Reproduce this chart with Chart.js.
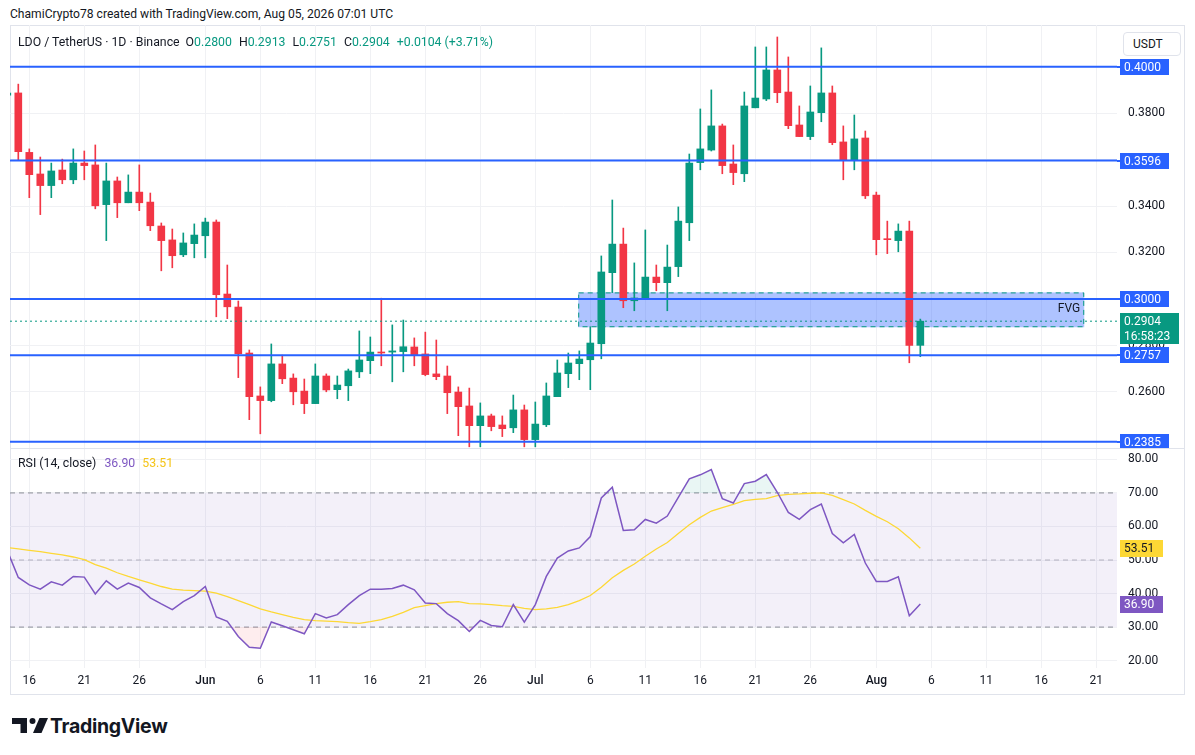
<!DOCTYPE html>
<html>
<head>
<meta charset="utf-8">
<title>LDO / TetherUS 1D</title>
<script src="https://cdn.jsdelivr.net/npm/chart.js@4.4.1/dist/chart.umd.min.js"></script>
<style>
  html, body { margin: 0; padding: 0; background: #ffffff; }
  body { position: relative; width: 1195px; height: 755px; overflow: hidden;
         font-family: Roboto, "Noto Sans", sans-serif; color: #131722; }
  .abs { position: absolute; white-space: nowrap; line-height: 16px; }
  #title { left: 10px; top: 6px; font-size: 12.1px; }
  #frame { left: 10px; top: 25px; width: 1175px; height: 670px; box-sizing: border-box; border: 1px solid #e0e3eb; }
  #sep { left: 10px; top: 448px; width: 1175px; height: 1px; background: #e0e3eb; }
  #pricePane { left: 0; top: 25px; width: 1195px; height: 424px; }
  #rsiPane { left: 0; top: 449px; width: 1195px; height: 245px; }
  #legend { left: 18px; top: 34px; font-size: 12.3px; }
  #legend .v { color: #089981; }
  #legend .g { margin-left: 7px; }
  #rsiLegend { left: 18px; top: 455px; font-size: 12.3px; }
  #unit { left: 1123px; top: 32px; width: 58px; height: 24px; box-sizing: border-box; border: 1px solid #e0e3eb;
          border-radius: 4px; font-size: 12px; line-height: 22px; padding-left: 9px; background: #fff; }
  #logo { left: 12px; top: 718px; }
  #brand { left: 50px; top: 714px; font-family: Inter, Roboto, sans-serif; font-weight: 700; font-size: 19.5px;
           line-height: 24px; letter-spacing: -0.3px; }
</style>
</head>
<body>
<div class="abs" id="title">ChamiCrypto78 created with TradingView.com, Aug 05, 2026 07:01 UTC</div>
<div class="abs" id="frame"></div>
<div class="abs" id="pricePane"><canvas id="priceChart"></canvas></div>
<div class="abs" id="sep"></div>
<div class="abs" id="rsiPane"><canvas id="rsiChart"></canvas></div>
<div class="abs" id="legend">LDO / TetherUS · 1D · Binance<span class="g" style="margin-left:6px">O<span class="v">0.2800</span></span><span class="g">H<span class="v">0.2913</span></span><span class="g">L<span class="v">0.2751</span></span><span class="g">C<span class="v">0.2904</span></span><span class="g v">+0.0104 (+3.71%)</span></div>
<div class="abs" id="rsiLegend">RSI (14, close)<span style="margin-left:8px;color:#7E57C2">36.90</span><span style="margin-left:7px;color:#F5C518">53.51</span></div>
<div class="abs" id="unit">USDT</div>
<svg class="abs" id="logo" width="36" height="15" viewBox="0 0 36 15">
  <path d="M0 0H15V15H8.5V6H0Z" fill="#131722"/>
  <circle cx="20.5" cy="3" r="3" fill="#131722"/>
  <path d="M27.5 0H36L29.5 15H21Z" fill="#131722"/>
</svg>
<div class="abs" id="brand">TradingView</div>

<script>
// daily candles, May 14 .. Aug 5 2026
const dates = [
  "May 14","May 15","May 16","May 17","May 18","May 19","May 20","May 21","May 22","May 23","May 24","May 25",
  "May 26","May 27","May 28","May 29","May 30","May 31",
  "Jun 1","Jun 2","Jun 3","Jun 4","Jun 5","Jun 6","Jun 7","Jun 8","Jun 9","Jun 10","Jun 11","Jun 12","Jun 13",
  "Jun 14","Jun 15","Jun 16","Jun 17","Jun 18","Jun 19","Jun 20","Jun 21","Jun 22","Jun 23","Jun 24","Jun 25",
  "Jun 26","Jun 27","Jun 28","Jun 29","Jun 30",
  "Jul 1","Jul 2","Jul 3","Jul 4","Jul 5","Jul 6","Jul 7","Jul 8","Jul 9","Jul 10","Jul 11","Jul 12","Jul 13",
  "Jul 14","Jul 15","Jul 16","Jul 17","Jul 18","Jul 19","Jul 20","Jul 21","Jul 22","Jul 23","Jul 24","Jul 25",
  "Jul 26","Jul 27","Jul 28","Jul 29","Jul 30","Jul 31",
  "Aug 1","Aug 2","Aug 3","Aug 4","Aug 5"
];
const opens = [
  0.3877,0.3887,0.3631,0.3538,0.3488,0.3555,0.3513,0.3585,0.3577,0.3406,0.3508,0.3414,
  0.3460,0.3417,0.3314,0.3254,0.3190,0.3238,
  0.3272,0.3331,0.3021,0.2965,0.2767,0.2582,0.2562,0.2720,0.2659,0.2603,0.2549,0.2668,0.2609,
  0.2626,0.2686,0.2734,0.2771,0.2771,0.2773,0.2793,0.2763,0.2677,0.2668,0.2599,0.2539,
  0.2454,0.2496,0.2457,0.2445,0.2522,
  0.2394,0.2458,0.2579,0.2678,0.2721,0.2738,0.2807,0.3113,0.3236,0.2992,0.2997,0.3094,0.3070,
  0.3139,0.3328,0.3587,0.3641,0.3745,0.3581,0.3539,0.3823,0.3861,0.3986,0.3891,0.3749,
  0.3699,0.3802,0.3887,0.3676,0.3599,0.3693,
  0.3447,0.3258,0.3251,0.3292,0.2800
];
const highs = [
  0.3890,0.3925,0.3646,0.3611,0.3585,0.3602,0.3646,0.3637,0.3663,0.3585,0.3525,0.3534,
  0.3577,0.3456,0.3327,0.3301,0.3284,0.3323,
  0.3348,0.3340,0.3146,0.2991,0.2780,0.2621,0.2806,0.2758,0.2677,0.2655,0.2720,0.2677,0.2668,
  0.2698,0.2862,0.2836,0.3003,0.2888,0.2909,0.2832,0.2857,0.2823,0.2711,0.2621,0.2616,
  0.2552,0.2504,0.2496,0.2586,0.2543,
  0.2556,0.2638,0.2737,0.2767,0.2776,0.2880,0.3185,0.3426,0.3305,0.3155,0.3297,0.3146,0.3232,
  0.3396,0.3624,0.3818,0.3900,0.3753,0.3663,0.3891,0.4085,0.4085,0.4128,0.4042,0.3831,
  0.3917,0.4081,0.3917,0.3745,0.3792,0.3723,
  0.3460,0.3335,0.3323,0.3335,0.2913
];
const lows = [
  0.3870,0.3598,0.3436,0.3363,0.3436,0.3496,0.3496,0.3513,0.3388,0.3251,0.3350,0.3414,
  0.3380,0.3294,0.3121,0.3134,0.3182,0.3177,
  0.3177,0.2923,0.2915,0.2661,0.2480,0.2419,0.2557,0.2635,0.2544,0.2506,0.2549,0.2600,0.2570,
  0.2562,0.2661,0.2678,0.2712,0.2643,0.2686,0.2712,0.2669,0.2652,0.2506,0.2411,0.2363,
  0.2363,0.2432,0.2407,0.2424,0.2363,
  0.2363,0.2450,0.2579,0.2618,0.2652,0.2609,0.2742,0.3027,0.2962,0.2949,0.2997,0.3035,0.2949,
  0.3096,0.3251,0.3556,0.3637,0.3539,0.3492,0.3505,0.3823,0.3854,0.3845,0.3733,0.3699,
  0.3686,0.3763,0.3664,0.3513,0.3556,0.3432,
  0.3190,0.3195,0.3203,0.2725,0.2751
];
const closes = [
  0.3886,0.3634,0.3535,0.3488,0.3551,0.3513,0.3585,0.3574,0.3401,0.3508,0.3414,0.3460,
  0.3414,0.3315,0.3251,0.3186,0.3241,0.3275,
  0.3331,0.3018,0.2966,0.2764,0.2579,0.2562,0.2720,0.2656,0.2600,0.2549,0.2668,0.2608,0.2629,
  0.2690,0.2737,0.2771,0.2767,0.2776,0.2794,0.2760,0.2674,0.2665,0.2596,0.2536,0.2454,
  0.2496,0.2450,0.2441,0.2522,0.2394,
  0.2461,0.2582,0.2681,0.2724,0.2741,0.2810,0.3116,0.3236,0.2992,0.3004,0.3094,0.3070,0.3137,
  0.3335,0.3585,0.3646,0.3745,0.3574,0.3544,0.3831,0.3865,0.3986,0.3888,0.3746,0.3699,
  0.3805,0.3887,0.3673,0.3599,0.3689,0.3444,
  0.3255,0.3255,0.3292,0.2800,0.2904
];
// RSI (14, close) and its moving average
const rsi = [
  52.8,44.8,42.6,41.3,43.5,42.5,45.1,44.9,39.9,43.8,41.3,43.1,41.8,38.7,36.9,35.2,37.6,39.4,
  42.1,33.0,31.7,27.2,24.0,23.7,31.5,30.4,29.2,28.0,34.0,32.7,33.7,36.7,39.4,41.3,41.3,41.5,
  42.5,41.1,37.2,37.0,34.0,31.9,28.7,32.0,30.5,30.1,36.7,31.5,
  36.7,45.1,50.6,52.7,53.6,57.0,68.5,71.7,58.8,59.0,62.1,61.0,63.1,68.7,74.2,75.4,77.0,68.3,
  67.0,72.8,73.5,75.5,70.2,64.2,62.1,65.0,66.7,57.9,55.1,57.6,49.1,
  43.6,43.6,45.0,33.4,36.9
];
const rsiMa = [
  53.7,53.3,52.9,52.5,52.0,51.5,50.9,50.1,48.6,47.6,46.2,45.1,44.1,43.1,42.1,41.3,41.0,40.9,
  40.7,40.1,39.1,37.9,36.7,35.4,34.5,33.7,32.9,32.2,31.9,31.8,31.6,31.3,31.1,31.6,32.2,33.2,
  34.4,35.8,36.4,37.0,37.4,37.6,37.0,36.9,36.7,36.4,36.2,35.6,
  35.2,35.4,35.9,36.7,37.9,39.4,41.9,44.7,46.9,48.8,51.1,53.3,55.2,57.9,60.5,62.7,64.6,65.6,
  66.6,67.7,68.1,68.3,69.2,69.6,69.7,69.9,70.0,69.3,68.0,66.7,64.8,
  63.0,61.4,59.3,56.6,53.5
];
const rsiLast = 36.90;
const rsiMaLast = 53.51;

// horizontal levels drawn on the chart
const levels = [0.4000, 0.3596, 0.3000, 0.2757, 0.2385];
const lastPrice = 0.2904;
const countdown = "16:58:23";
const fvgTop = 0.3028, fvgBottom = 0.2878;
const fvgFrom = 51.9, fvgTo = 97.9;   // day index

// axes
const xTicks = [2, 7, 12, 18, 23, 28, 33, 38, 43, 48, 53, 58, 63, 68, 73, 79, 84, 89, 94, 99];
const xTickLabels = ["16","21","26","Jun","6","11","16","21","26","Jul","6","11","16","21","26","Aug","6","11","16","21"];
const monthLabels = ["Jun", "Jul", "Aug"];
const priceTicks = [0.26, 0.28, 0.30, 0.32, 0.34, 0.36, 0.38, 0.40];
const rsiTicks = [20, 30, 40, 50, 60, 70, 80];
const xMin = 0.2455, xMax = 100.88;

const UP = "#089981", DOWN = "#F23645", BLUE = "#2962FF", GRID = "#f0f1f4";
Chart.defaults.font.family = "Roboto, 'Noto Sans', sans-serif";
Chart.defaults.font.size = 12;
Chart.defaults.color = "#131722";

const candleColors = opens.map((o, i) => (closes[i] >= o ? UP : DOWN));
const flat = v => [{ x: xMin, y: v }, { x: xMax, y: v }];

function tag(ctx, x, y, w, h, bg, fg, lines) {
  ctx.fillStyle = bg;
  ctx.fillRect(x, y, w, h);
  ctx.fillStyle = fg;
  ctx.font = "12px Roboto, sans-serif";
  ctx.textBaseline = "middle";
  ctx.textAlign = "left";
  lines.forEach((t, k) => ctx.fillText(t, x + 4, y + 8.5 + k * 15));
}

const priceTags = {
  id: "priceTags",
  beforeDatasetsDraw(chart) {
    const { ctx, scales: { x, y } } = chart;
    const l = x.getPixelForValue(fvgFrom), r = x.getPixelForValue(fvgTo);
    const t = y.getPixelForValue(fvgTop), b = y.getPixelForValue(fvgBottom);
    ctx.save();
    ctx.fillStyle = "rgba(41,98,255,0.38)";
    ctx.fillRect(l, t, r - l, b - t);
    ctx.strokeStyle = UP;
    ctx.lineWidth = 1;
    ctx.setLineDash([5, 4]);
    ctx.strokeRect(l + 0.5, t + 0.5, r - l - 1, b - t - 1);
    ctx.restore();
  },
  afterDraw(chart) {
    const { ctx, chartArea, scales: { x, y } } = chart;
    const bx = chartArea.right + 3;
    ctx.save();
    // FVG label
    ctx.fillStyle = "#131722";
    ctx.font = "12px Roboto, sans-serif";
    ctx.textAlign = "right";
    ctx.textBaseline = "middle";
    ctx.fillText("FVG", x.getPixelForValue(fvgTo) - 4, (y.getPixelForValue(fvgTop) + y.getPixelForValue(fvgBottom)) / 2 - 1);
    // level tags
    levels.forEach(v => {
      const py = Math.round(y.getPixelForValue(v));
      ctx.fillStyle = BLUE;
      ctx.fillRect(chartArea.right, py - 1, 3, 2);
      tag(ctx, bx, py - 8, 49, 16, BLUE, "#ffffff", [v.toFixed(4)]);
    });
    // last price tag
    const py = Math.round(y.getPixelForValue(lastPrice));
    tag(ctx, bx, py - 8, 59, 31, UP, "#ffffff", [lastPrice.toFixed(4), countdown]);
    ctx.restore();
  }
};

new Chart(document.getElementById("priceChart"), {
  type: "bar",
  data: {
    datasets: [
      ...levels.map(v => ({ type: "line", data: flat(v), borderColor: BLUE, borderWidth: 2, pointRadius: 0 })),
      { type: "line", data: flat(lastPrice), borderColor: UP, borderWidth: 1, borderDash: [2, 3], pointRadius: 0 },
      { label: "body", data: dates.map((d, i) => ({ x: i, y: [opens[i], closes[i]] })),
        backgroundColor: candleColors, barThickness: 7, minBarLength: 1, grouped: false },
      { label: "wick", data: dates.map((d, i) => ({ x: i, y: [lows[i], highs[i]] })),
        backgroundColor: candleColors, barThickness: 1, grouped: false }
    ]
  },
  options: {
    responsive: true,
    maintainAspectRatio: false,
    animation: false,
    layout: { padding: { left: 10, right: 11, top: 0, bottom: 0 } },
    plugins: { legend: { display: false }, tooltip: { enabled: false } },
    scales: {
      x: {
        type: "linear", min: xMin, max: xMax, offset: false,
        grid: { color: GRID, drawTicks: false, offset: false },
        border: { display: false },
        ticks: { display: false },
        afterBuildTicks: s => { s.ticks = xTicks.map(v => ({ value: v })); },
        afterFit: s => { s.height = 0; s.paddingLeft = 0; s.paddingRight = 0; }
      },
      y: {
        position: "right", min: 0.23536, max: 0.41796,
        grid: { color: GRID, drawTicks: false },
        border: { display: false },
        ticks: { padding: 11, callback: v => v.toFixed(4) },
        afterBuildTicks: s => { s.ticks = priceTicks.map(v => ({ value: v })); },
        afterFit: s => { s.width = 67; s.paddingTop = 0; s.paddingBottom = 0; }
      }
    }
  },
  plugins: [priceTags]
});

const rsiTags = {
  id: "rsiTags",
  afterDraw(chart) {
    const { ctx, chartArea, scales: { y } } = chart;
    const bx = chartArea.right + 3;
    ctx.save();
    tag(ctx, bx, Math.round(y.getPixelForValue(rsiMaLast)) - 8, 43, 17, "#FDD835", "#131722", [rsiMaLast.toFixed(2)]);
    tag(ctx, bx, Math.round(y.getPixelForValue(rsiLast)) - 8, 43, 17, "#7E57C2", "#ffffff", [rsiLast.toFixed(2)]);
    ctx.restore();
  }
};

const dashGray = "rgba(120,123,134,0.85)";
new Chart(document.getElementById("rsiChart"), {
  type: "line",
  data: {
    datasets: [
      { data: rsi.map((v, i) => ({ x: i, y: v })), borderColor: "#7E57C2", borderWidth: 1.5, pointRadius: 0,
        fill: { target: { value: 70 }, above: "rgba(8,153,129,0.09)", below: "rgba(0,0,0,0)" } },
      { data: rsiMa.map((v, i) => ({ x: i, y: v })), borderColor: "#FDD835", borderWidth: 1.3, pointRadius: 0, fill: false },
      { data: rsi.map((v, i) => ({ x: i, y: v })), borderColor: "rgba(0,0,0,0)", borderWidth: 0, pointRadius: 0,
        fill: { target: { value: 30 }, above: "rgba(0,0,0,0)", below: "rgba(242,54,69,0.09)" } },
      { data: flat(70), borderColor: dashGray, borderWidth: 1, borderDash: [5, 4], pointRadius: 0,
        fill: { target: { value: 30 } }, backgroundColor: "rgba(126,87,194,0.09)" },
      { data: flat(50), borderColor: "rgba(120,123,134,0.5)", borderWidth: 1, borderDash: [5, 4], pointRadius: 0, fill: false },
      { data: flat(30), borderColor: dashGray, borderWidth: 1, borderDash: [5, 4], pointRadius: 0, fill: false }
    ]
  },
  options: {
    responsive: true,
    maintainAspectRatio: false,
    animation: false,
    layout: { padding: { left: 10, right: 11, top: 0, bottom: 0 } },
    plugins: { legend: { display: false }, tooltip: { enabled: false } },
    scales: {
      x: {
        type: "linear", min: xMin, max: xMax, offset: false,
        grid: { color: GRID, drawTicks: false },
        border: { display: false },
        ticks: {
          padding: 6, maxRotation: 0, autoSkip: false,
          callback: v => xTickLabels[xTicks.indexOf(v)],
          font: c => ({ size: 12, weight: c.tick && monthLabels.includes(xTickLabels[xTicks.indexOf(c.tick.value)]) ? "500" : "normal" })
        },
        afterBuildTicks: s => { s.ticks = xTicks.map(v => ({ value: v })); },
        afterFit: s => { s.height = 26; s.paddingLeft = 0; s.paddingRight = 0; }
      },
      y: {
        position: "right", min: 17.8, max: 83.1,
        grid: { color: GRID, drawTicks: false },
        border: { display: false },
        ticks: { padding: 11, callback: v => v.toFixed(2) },
        afterBuildTicks: s => { s.ticks = rsiTicks.map(v => ({ value: v })); },
        afterFit: s => { s.width = 67; s.paddingTop = 0; s.paddingBottom = 0; }
      }
    }
  },
  plugins: [rsiTags]
});
</script>
</body>
</html>
